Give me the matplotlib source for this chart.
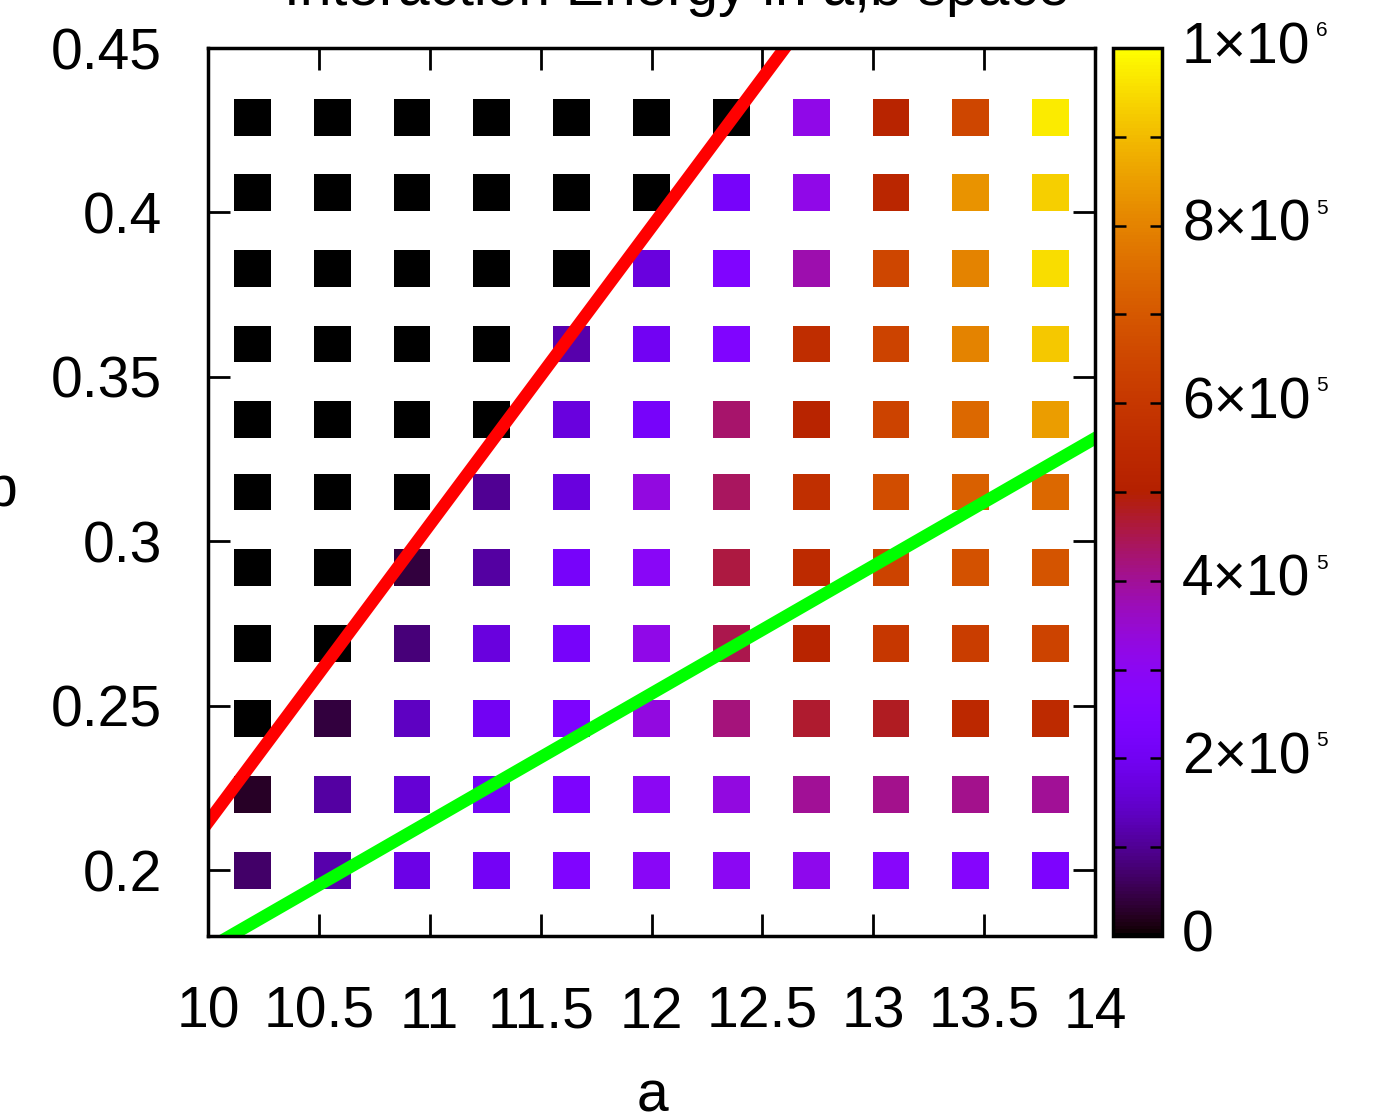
import numpy as np
import matplotlib
matplotlib.use("Agg")
import matplotlib.pyplot as plt
from matplotlib.transforms import blended_transform_factory

plt.rcParams["font.family"] = ["Liberation Sans", "DejaVu Sans"]

# ---------------- data ----------------
a_values = [10.2, 10.56, 10.92, 11.28, 11.64, 12.0, 12.36, 12.72, 13.08, 13.44, 13.8]
b_values = [0.2, 0.223, 0.246, 0.269, 0.292, 0.315, 0.337, 0.360, 0.383, 0.406, 0.429]

# interaction energy in units of 1e5; rows follow b_values (bottom -> top), columns follow a_values
energy_1e5 = [
    [0.7, 1.2, 1.8, 2.1, 2.5, 2.9, 3.0, 3.1, 2.8, 2.7, 2.4],
    [0.25, 1.1, 1.6, 2.1, 2.4, 3.0, 3.3, 4.0, 4.1, 4.1, 4.0],
    [0.0, 0.4, 1.4, 2.0, 2.4, 3.3, 4.2, 4.7, 4.8, 5.4, 5.5],
    [0.0, 0.0, 0.8, 1.7, 2.2, 3.2, 4.5, 5.2, 6.0, 6.2, 6.4],
    [0.0, 0.0, 0.4, 1.1, 2.2, 2.9, 4.6, 5.5, 6.4, 6.8, 6.9],
    [0.0, 0.0, 0.0, 1.0, 1.7, 3.3, 4.4, 5.7, 6.7, 7.2, 7.4],
    [0.0, 0.0, 0.0, 0.0, 1.7, 2.2, 4.3, 5.2, 6.4, 7.4, 8.5],
    [0.0, 0.0, 0.0, 0.0, 1.2, 2.0, 2.5, 5.6, 6.4, 8.0, 9.2],
    [0.0, 0.0, 0.0, 0.0, 0.0, 1.7, 2.5, 3.8, 6.5, 8.0, 9.5],
    [0.0, 0.0, 0.0, 0.0, 0.0, 0.0, 2.2, 3.2, 5.3, 8.3, 9.3],
    [0.0, 0.0, 0.0, 0.0, 0.0, 0.0, 0.0, 3.2, 5.2, 6.5, 9.7],
]

# boundary lines b = slope * a + intercept
red_slope, red_intercept = 0.0905, -0.6904
green_slope, green_intercept = 0.0388, -0.21188

x_ticks = [10, 10.5, 11, 11.5, 12, 12.5, 13, 13.5, 14]
x_ticklabels = ["10", "10.5", "11", "11.5", "12", "12.5", "13", "13.5", "14"]
y_ticks = [0.2, 0.25, 0.3, 0.35, 0.4, 0.45]
y_ticklabels = ["0.2", "0.25", "0.3", "0.35", "0.4", "0.45"]
cb_label_values = [0, 2, 4, 6, 8, 10]
cb_label_main = ["0", "2×10", "4×10", "6×10", "8×10", "1×10"]
cb_label_exp = ["", "5", "5", "5", "5", "6"]

title = "Interaction Energy in a,b space"

# ---------------- figure ----------------
W, H = 1394, 1116
fig = plt.figure(figsize=(W / 100, H / 100), dpi=100)
fig.patch.set_facecolor("white")

ax = fig.add_axes([208 / W, 1 - 936 / H, (1095 - 208) / W, (936 - 48) / H])
cax = fig.add_axes([1113 / W, 1 - 936 / H, (1162 - 1113) / W, (936 - 48) / H])

A, B = np.meshgrid(a_values, b_values)
E = np.array(energy_1e5)
sc = ax.scatter(A.ravel(), B.ravel(), c=E.ravel(), cmap="gnuplot", vmin=0, vmax=10,
                marker="s", s=26.6 ** 2, linewidths=0, zorder=2)

a_line = np.array([9.5, 14.5])
ax.plot(a_line, red_slope * a_line + red_intercept, color="#ff0000", lw=9,
        solid_capstyle="butt", zorder=3)
ax.plot(a_line, green_slope * a_line + green_intercept, color="#00ff00", lw=9,
        solid_capstyle="butt", zorder=3)

ax.set_xlim(10, 14)
ax.set_ylim(0.18, 0.45)
ax.set_xticks(x_ticks)
ax.set_xticklabels(x_ticklabels)
ax.set_yticks(y_ticks)
ax.set_yticklabels(y_ticklabels)
ax.tick_params(direction="in", length=16, width=2, top=True, right=True,
               labelsize=41, pad=0)
ax.tick_params(axis="x", pad=36)
ax.tick_params(axis="y", pad=33)
for sp in ax.spines.values():
    sp.set_linewidth(2.5)
    sp.set_zorder(5)

# labels (partly cut off by the figure edge, as in the reference)
fig.text(677 / W, 1 - 5 / H, title, ha="center", va="baseline", fontsize=41)
fig.text(652 / W, 1 - 1111 / H, "a", ha="center", va="baseline", fontsize=41)
fig.text(1 / W, 1 - 505 / H, "b", ha="center", va="baseline", fontsize=41)

# ---------------- colorbar ----------------
cb = fig.colorbar(sc, cax=cax)
cb.outline.set_linewidth(2.5)
cb.set_ticks(list(range(0, 11)))
cax.tick_params(which="both", direction="in", left=True, right=True, length=9,
                width=1.8, labelleft=False, labelright=False)

tr = blended_transform_factory(cax.transAxes, cax.transData)
for v, main, ex in zip(cb_label_values, cb_label_main, cb_label_exp):
    t = cax.text(1.41, v, main, transform=tr, ha="left", va="center", fontsize=41,
                 clip_on=False)
    if ex:
        cax.annotate(ex, xy=(1, 1), xycoords=t, xytext=(4, 0),
                     textcoords="offset points", ha="left", va="top", fontsize=15,
                     annotation_clip=False)

fig.savefig("out.png", dpi=100, facecolor="white")
